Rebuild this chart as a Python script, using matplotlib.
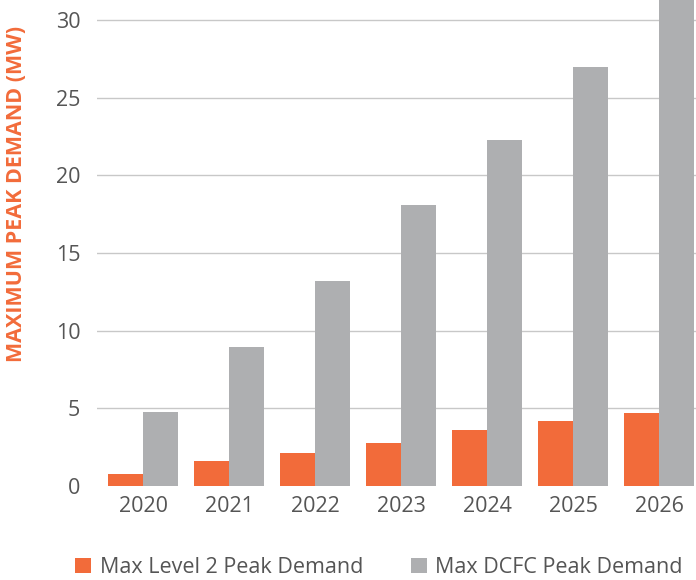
import matplotlib.pyplot as plt
import numpy as np

years = ["2020", "2021", "2022", "2023", "2024", "2025", "2026"]
level2_peak = [0.8, 1.6, 2.1, 2.75, 3.6, 4.2, 4.7]
dcfc_peak = [4.75, 8.95, 13.2, 18.1, 22.3, 27.0, 31.5]

orange = "#F26B3A"
grey = "#AEAFB1"
text_grey = "#555555"

plt.rcParams["font.family"] = ["Open Sans", "DejaVu Sans"]

fig = plt.figure(figsize=(6.96, 5.8), dpi=100)
ax = fig.add_axes([97 / 696, 94 / 580, 599 / 696, 486 / 580])

x = np.arange(len(years))
w = 0.41
ax.bar(x - w / 2, level2_peak, width=w, color=orange, label="Max Level 2 Peak Demand", zorder=2)
ax.bar(x + w / 2, dcfc_peak, width=w, color=grey, label="Max DCFC Peak Demand", zorder=2)

ax.set_xlim(-0.535, 6.43)
ax.set_ylim(0, 31.3)
ax.set_yticks(range(0, 31, 5))
ax.set_xticks(x)
ax.set_xticklabels(years)
ax.tick_params(length=0, labelsize=15.5, colors=text_grey, pad=7)
ax.tick_params(axis="y", pad=12)

for v in range(5, 31, 5):
    ax.axhline(v, color="#C8C8C8", lw=1, zorder=1)

for s in ax.spines.values():
    s.set_visible(False)

fig.text(0.024, 0.665, "MAXIMUM PEAK DEMAND (MW)", rotation=90, color=orange,
         fontsize=15.5, fontweight="bold", ha="center", va="center")

fig.legend(loc="lower left", bbox_to_anchor=(0.08, -0.03), ncol=2, frameon=False,
           fontsize=15.5, handlelength=0.75, handleheight=0.75, columnspacing=2.2,
           handletextpad=0.4, labelcolor=text_grey)

fig.savefig("out.png", dpi=100)
